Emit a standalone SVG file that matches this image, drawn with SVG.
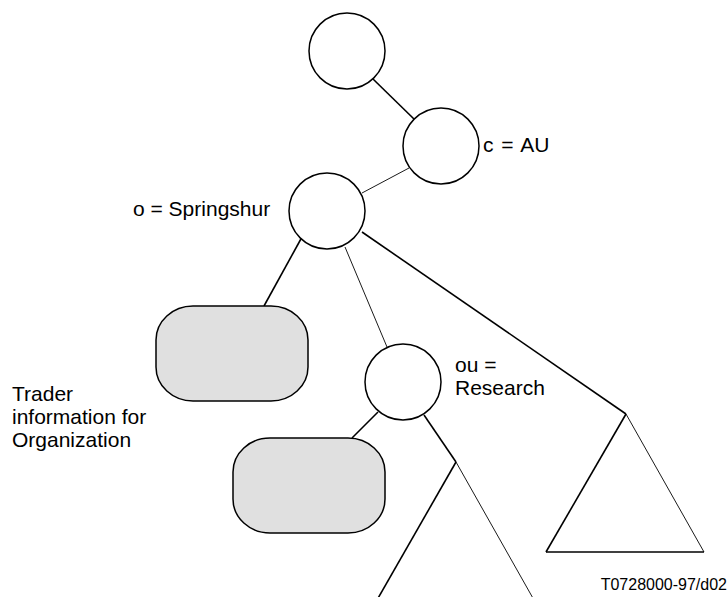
<svg xmlns="http://www.w3.org/2000/svg" width="728" height="597" viewBox="0 0 728 597">
<style>
.node{fill:#fff;stroke:#000;stroke-width:1.5}
.box{fill:#e0e0e0;stroke:#000;stroke-width:1.5}
.thick{stroke:#000;stroke-width:1.6;fill:none}
.thin{stroke:#000;stroke-width:0.9;fill:none}
text{font-family:"Liberation Sans",Arial,sans-serif;font-size:21px;fill:#000}
.small{font-size:16px}
</style>
<rect width="728" height="597" fill="#fff"/>
<g id="connectors">
<line class="thick" x1="373" y1="79" x2="415" y2="120"/>
<line class="thin" x1="409" y1="168" x2="362" y2="193"/>
<line class="thick" x1="302" y1="237" x2="264" y2="306"/>
<line class="thin" x1="345" y1="247" x2="387" y2="347"/>
<line class="thick" x1="362" y1="232" x2="626" y2="414"/>
<line class="thick" x1="378" y1="412" x2="352" y2="438"/>
<line class="thick" x1="424" y1="415" x2="456" y2="462"/>
</g>
<g id="root"><circle class="node" cx="347" cy="51" r="38"/></g>
<g id="c-AU"><circle class="node" cx="441" cy="146" r="38"/><text x="483" y="152" word-spacing="2">c = AU</text></g>
<g id="o-Springshur"><circle class="node" cx="327" cy="211" r="38"/><text x="133" y="216">o = Springshur</text></g>
<g id="trader-org"><rect class="box" x="156" y="306" width="152" height="95" rx="37" ry="34"/></g>
<g id="ou-Research"><circle class="node" cx="403" cy="382" r="38"/><text x="455" y="372">ou =</text><text x="455" y="395">Research</text></g>
<g id="trader-ou"><rect class="box" x="233" y="438" width="152" height="95" rx="37" ry="34"/></g>
<g id="subtree-right">
<line class="thick" x1="626" y1="414" x2="546" y2="552"/>
<line class="thin" x1="626" y1="414" x2="704" y2="552"/>
<line class="thick" x1="546" y1="552" x2="704" y2="552"/>
</g>
<g id="subtree-ou">
<line class="thick" x1="456" y1="462" x2="377" y2="600"/>
<line class="thin" x1="456" y1="462" x2="534" y2="600"/>
</g>
<g id="trader-label">
<text x="12" y="401">Trader</text>
<text x="12" y="424">information for</text>
<text x="12" y="447">Organization</text>
</g>
<text class="small" x="727" y="590" text-anchor="end">T0728000-97/d02</text>
</svg>
